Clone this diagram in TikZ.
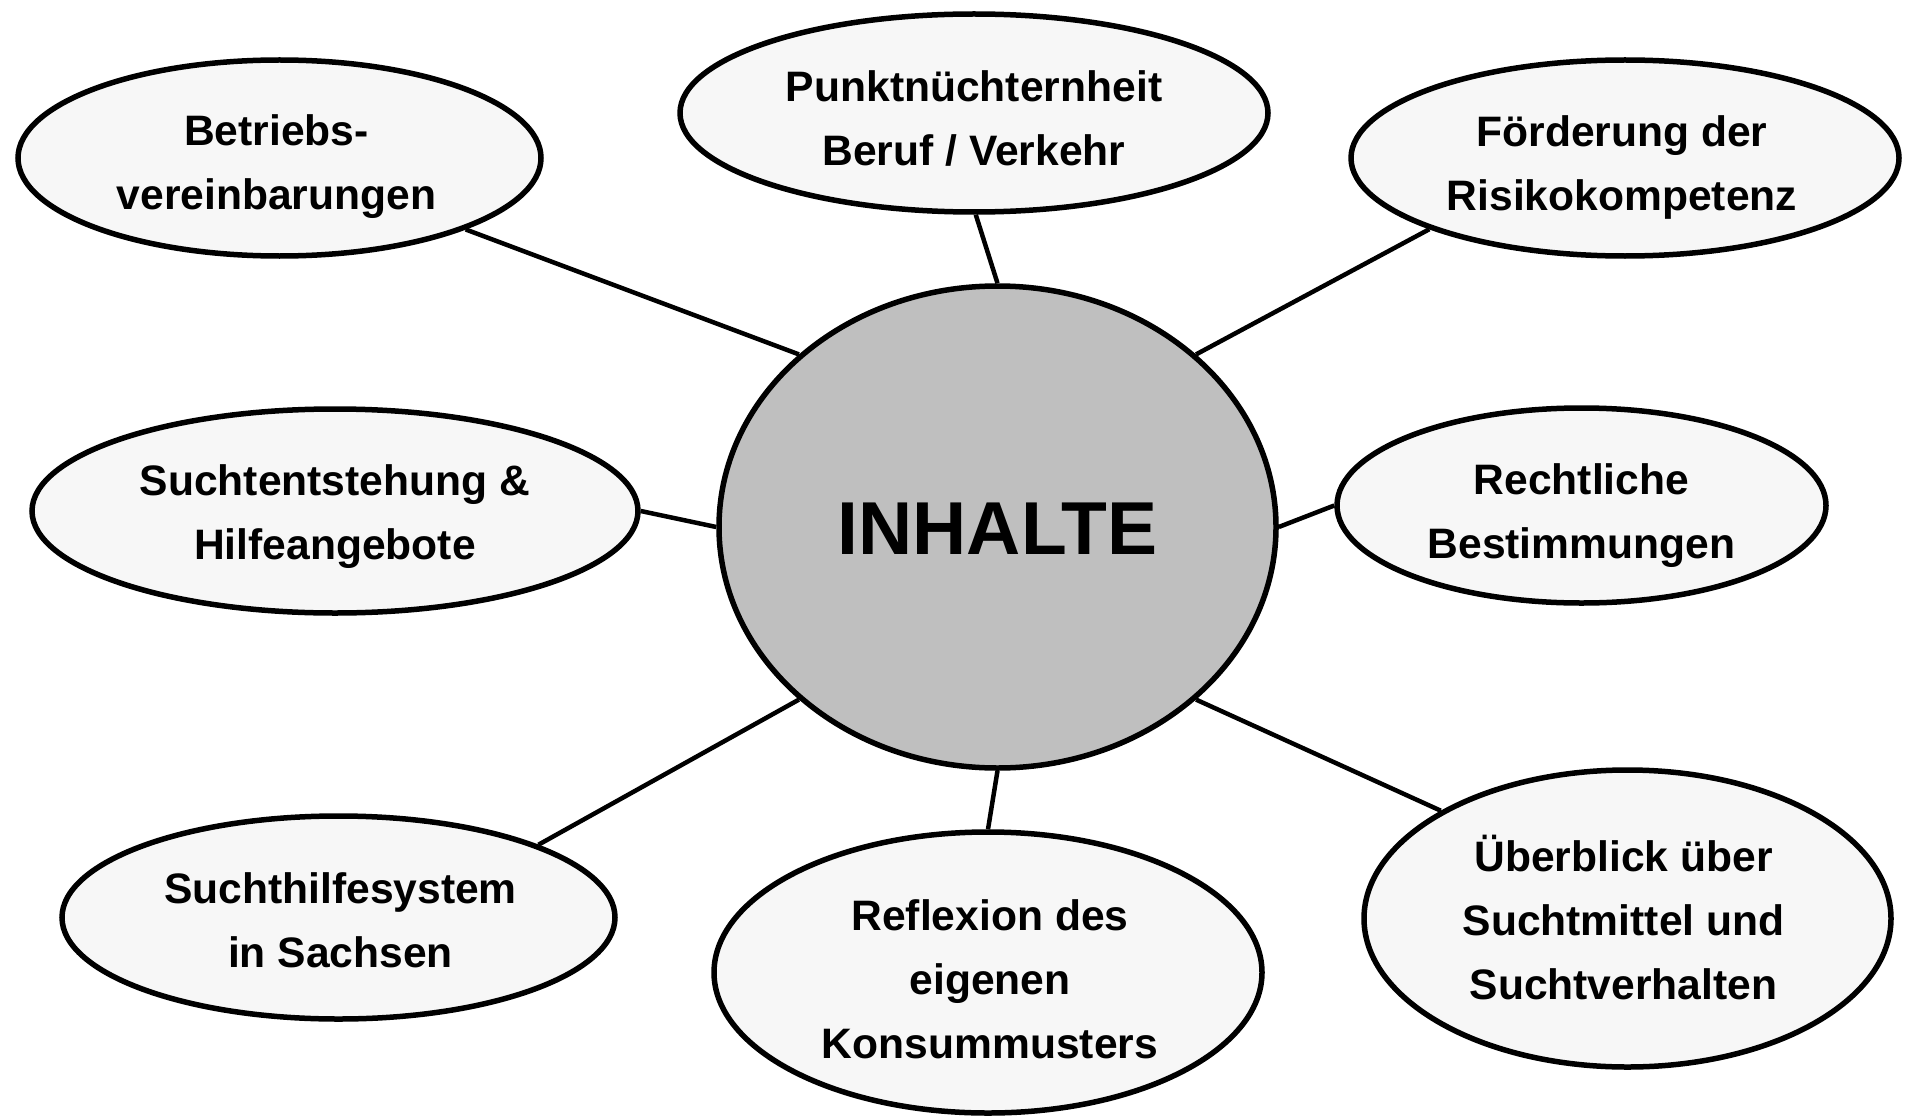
\documentclass[tikz,border=0pt]{standalone}
\usepackage{fontspec}
\setmainfont{Liberation Sans}
\usetikzlibrary{shapes.geometric}
\definecolor{bubble}{HTML}{F7F7F7}
\definecolor{hub}{HTML}{BFBFBF}
\tikzset{
  topic/.style={ellipse, draw=black, line width=5.5pt, fill=bubble, inner sep=0pt},
  topictext/.style={inner sep=0pt, align=center, font=\fontsize{42.6}{64}\selectfont\bfseries},
  hubnode/.style={ellipse, draw=black, line width=5.5pt, fill=hub, inner sep=0pt},
  hubtext/.style={inner sep=0pt, font=\fontsize{75}{75}\selectfont\bfseries},
  link/.style={line width=4.5pt}
}
\begin{document}
\begin{tikzpicture}[x=1pt,y=-1pt]
\useasboundingbox[fill=white] (0,0) rectangle (1905,1118);
\node[hubnode, minimum width=557pt, minimum height=482pt] (c) at (997.5,527) {};
\node[topic, minimum width=523pt, minimum height=196pt] (b) at (279.5,158) {};
\node[topic, minimum width=588pt, minimum height=198pt] (p) at (974,113) {};
\node[topic, minimum width=548pt, minimum height=196pt] (f) at (1625,158) {};
\node[topic, minimum width=606pt, minimum height=204pt] (s) at (335,511) {};
\node[topic, minimum width=489pt, minimum height=195pt] (r) at (1581.5,505.5) {};
\node[topic, minimum width=553pt, minimum height=203pt] (h) at (338.5,917.5) {};
\node[topic, minimum width=548pt, minimum height=281pt] (k) at (988,972.5) {};
\node[topic, minimum width=527pt, minimum height=297pt] (u) at (1627.5,918.5) {};
\node[hubtext] (ct) at ([yshift=-2pt]c.center) {INHALTE};
\node[topictext] (bt) at ([xshift=-3pt,yshift=-9pt]b.center) {Betriebs-\\vereinbarungen};
\node[topictext] (pt) at ([yshift=-5pt]p.center) {Punktnüchternheit\\Beruf / Verkehr};
\node[topictext] (ft) at ([xshift=-3pt,yshift=-9pt]f.center) {Förderung der\\Risikokompetenz};
\node[topictext] (st) at ([yshift=-6pt]s.center) {Suchtentstehung \&\\Hilfeangebote};
\node[topictext] (rt) at ([yshift=-10pt]r.center) {Rechtliche\\Bestimmungen};
\node[topictext] (ht) at ([xshift=2pt,yshift=-3pt]h.center) {Suchthilfesystem\\in Sachsen};
\node[topictext] (kt) at ([xshift=2pt,yshift=-7pt]k.center) {Reflexion des\\eigenen\\Konsummusters};
\node[topictext] (ut) at ([xshift=-4pt,yshift=1pt]u.center) {Überblick über\\Suchtmittel und\\Suchtverhalten};
\draw[link] (b.-21) -- (c.139);
\draw[link] (p.-89) -- (c.90);
\draw[link] (f.-160) -- (c.41);
\draw[link] (s.0) -- (c.180);
\draw[link] (r.180) -- (c.0);
\draw[link] (h.20) -- (c.221);
\draw[link] (k.90) -- (c.-90);
\draw[link] (u.150) -- (c.-41);
\end{tikzpicture}
\end{document}
